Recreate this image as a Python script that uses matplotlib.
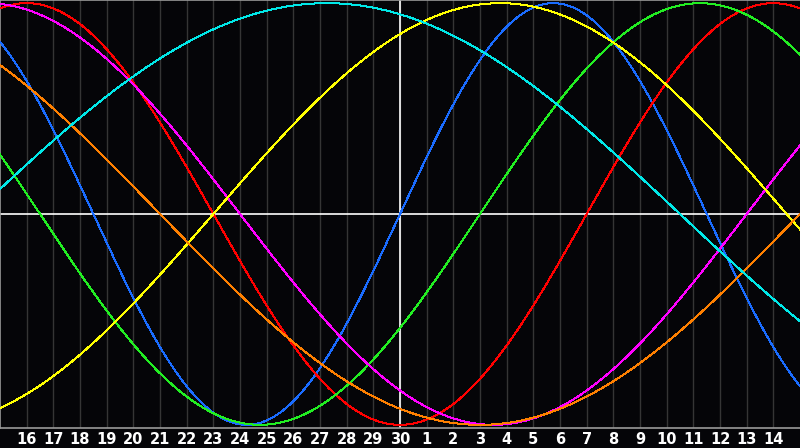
import numpy as np
import matplotlib
matplotlib.use("Agg")
import matplotlib.pyplot as plt

# biorhythm chart, 30 days shown, "today" (the 30th) in the middle
# cycle lengths (days) and day-in-cycle on the 30th
cycle_names = ["physical", "emotional", "intellectual", "intuitive",
               "aesthetic", "awareness", "spiritual"]
cycle_len = [23, 28, 33, 38, 43, 48, 53]
day_in_cycle = [0, 21, 30, 25, 7, 33, 16]
cycle_colors = ["#1a6cff", "#ff0000", "#22ee22", "#ff00ff",
                "#ffff00", "#ff8000", "#00e8e8"]

day_labels = [16, 17, 18, 19, 20, 21, 22, 23, 24, 25, 26, 27, 28, 29, 30,
              1, 2, 3, 4, 5, 6, 7, 8, 9, 10, 11, 12, 13, 14]
today = 15          # index of the 30th on the day axis
n_days = 30

BG = "#050508"

fig = plt.figure(figsize=(8, 4.48), dpi=100, facecolor=BG)
ax = fig.add_axes([0, 20 / 448, 1, 428 / 448])
ax.set_facecolor(BG)

# day grid
for i in range(1, n_days):
    ax.axvline(i, color="#353535", lw=1, zorder=1)

t = np.linspace(0, n_days, 1601)
for P, d0, c in zip(cycle_len, day_in_cycle, cycle_colors):
    y = np.sin(2 * np.pi * (d0 + t - today) / P)
    ax.plot(t, y, color=c, lw=0.72, antialiased=False, zorder=3)

ax.axhline(0, color="white", lw=1.2, zorder=2)
ax.axvline(today, color="white", lw=1.2, zorder=2)

ax.set_xlim(0, n_days)
ax.set_ylim(-1.015, 1.015)
ax.set_yticks([])
ax.set_xticks(range(1, n_days))
ax.set_xticklabels([str(d) for d in day_labels], color="white",
                   fontsize=10.5, fontweight="bold", family="DejaVu Sans")
ax.tick_params(axis="x", length=0, pad=3)

for s in ["left", "top", "bottom"]:
    ax.spines[s].set_color("#999999")
    ax.spines[s].set_linewidth(1.2)
ax.spines["right"].set_visible(False)

fig.savefig("out.png", dpi=100, facecolor=BG)
